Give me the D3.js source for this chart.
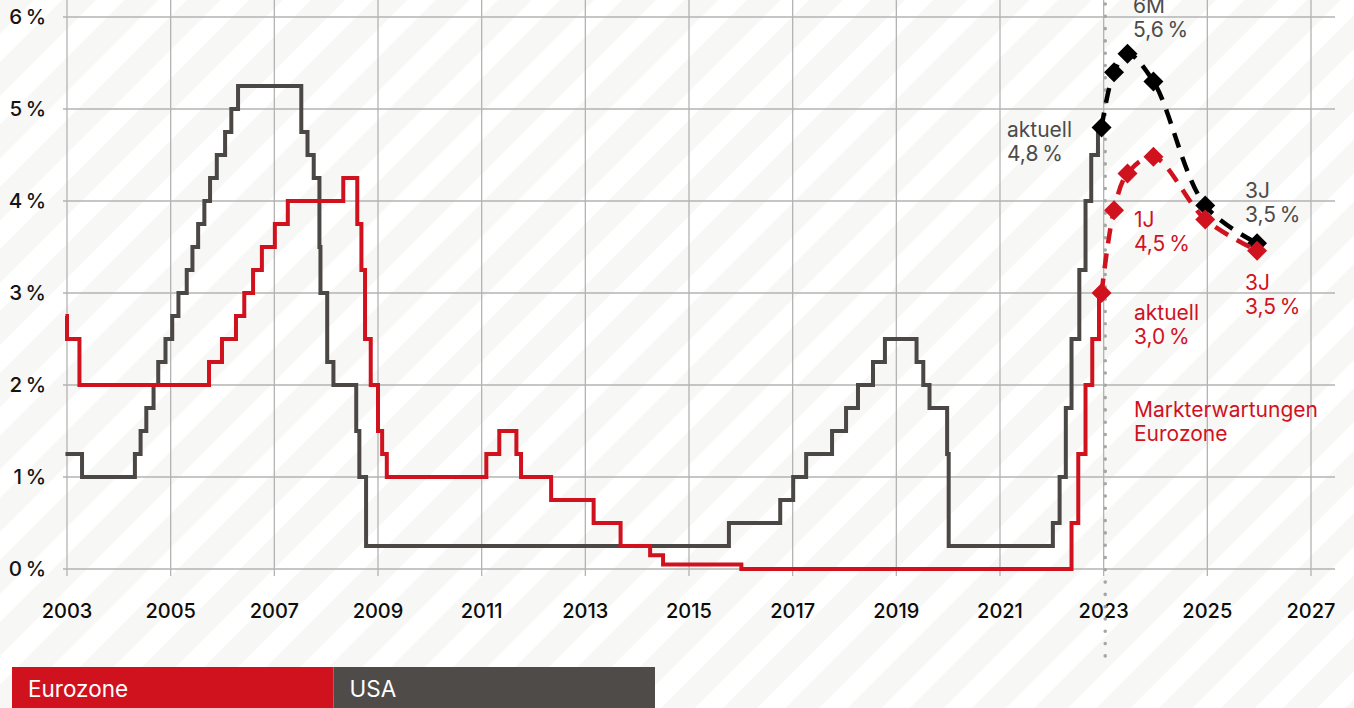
<!DOCTYPE html>
<html>
<head>
<meta charset="utf-8">
<script src="https://cdn.jsdelivr.net/npm/d3@7"></script>
<style>
  html, body { margin: 0; padding: 0; background: #fff; }
  svg { display: block; font-family: Inter, "Liberation Sans", Arial, sans-serif; }
</style>
</head>
<body>
<svg id="chart" width="1354" height="708"></svg>
<script>
// Leitzins Eurozone (Hauptrefinanzierungssatz): Zeitpunkt der Änderung (Dezimaljahr) und neuer Satz in %
const euroYears = [2002.97, 2003.0, 2003.24, 2005.74, 2005.99, 2006.26, 2006.42, 2006.59, 2006.76, 2007.01, 2007.26,
  2008.33, 2008.60, 2008.68, 2008.75, 2008.86, 2009.00, 2009.08, 2009.17, 2011.09, 2011.34, 2011.67, 2011.76,
  2012.34, 2013.16, 2013.68, 2014.25, 2014.50, 2016.01, 2022.38, 2022.51, 2022.65, 2022.78, 2022.91, 2022.96];
const euroRates = [2.75, 2.50, 2.00, 2.25, 2.50, 2.75, 3.00, 3.25, 3.50, 3.75, 4.00,
  4.25, 3.75, 3.25, 2.50, 2.00, 1.50, 1.25, 1.00, 1.25, 1.50, 1.25, 1.00,
  0.75, 0.50, 0.25, 0.15, 0.05, 0.00, 0.50, 1.25, 2.00, 2.50, 3.00, 3.00];

// Leitzins USA (Fed Funds Target, Obergrenze)
const usYears = [2002.97, 2003.29, 2004.31, 2004.42, 2004.53, 2004.67, 2004.76, 2004.90, 2005.03, 2005.15, 2005.31,
  2005.42, 2005.53, 2005.65, 2005.76, 2005.89, 2006.05, 2006.17, 2006.30, 2007.52, 2007.64, 2007.76, 2007.87,
  2007.89, 2008.02, 2008.14, 2008.58, 2008.64, 2008.77, 2015.77, 2016.76, 2017.01, 2017.26, 2017.76, 2018.03,
  2018.26, 2018.55, 2018.78, 2019.39, 2019.52, 2019.64, 2019.98, 2020.01, 2022.02, 2022.15, 2022.27, 2022.38,
  2022.53, 2022.65, 2022.76, 2022.89, 2022.96];
const usRates = [1.25, 1.00, 1.25, 1.50, 1.75, 2.00, 2.25, 2.50, 2.75, 3.00, 3.25,
  3.50, 3.75, 4.00, 4.25, 4.50, 4.75, 5.00, 5.25, 4.75, 4.50, 4.25, 3.50,
  3.00, 2.25, 2.00, 1.50, 1.00, 0.25, 0.50, 0.75, 1.00, 1.25, 1.50, 1.75,
  2.00, 2.25, 2.50, 2.25, 2.00, 1.75, 1.25, 0.25, 0.50, 1.00, 1.75, 2.50,
  3.25, 4.00, 4.50, 4.75, 4.75];

// Markterwartungen: aktuell, 3M, 6M, 1J, 2J, 3J
const forecastYears = [2022.96, 2023.20, 2023.46, 2023.96, 2024.96, 2025.96];
const usForecast = [4.8, 5.4, 5.6, 5.3, 3.95, 3.54];
const euroForecast = [3.0, 3.9, 4.3, 4.48, 3.8, 3.46];

const yTicks = [0, 1, 2, 3, 4, 5, 6];
const xTicks = [2003, 2005, 2007, 2009, 2011, 2013, 2015, 2017, 2019, 2021, 2023, 2025, 2027];
const legendNames = ["Eurozone", "USA"];

const RED = "#d0121f", GREY = "#4b4745", LABEL_GREY = "#4d4b4a";

const svg = d3.select("#chart");
const W = 1354, H = 708;

// diagonally striped background
const defs = svg.append("defs");
const pat = defs.append("pattern")
  .attr("id", "stripes").attr("patternUnits", "userSpaceOnUse")
  .attr("width", 44).attr("height", 44)
  .attr("patternTransform", "rotate(45)");
pat.append("rect").attr("width", 44).attr("height", 44).attr("fill", "#ffffff");
pat.append("rect").attr("width", 24).attr("height", 44).attr("fill", "#f7f7f5");
svg.append("rect").attr("width", W).attr("height", H).attr("fill", "url(#stripes)");

const x = d3.scaleLinear().domain([2003, 2027]).range([67, 1311]);
const y = d3.scaleLinear().domain([0, 6]).range([569, 17]);
const fmt = v => d3.format(".1f")(v).replace(".", ",") + "\u2009%";

// grid
const grid = svg.append("g").attr("stroke", "#b3b3b3").attr("stroke-width", 1.3);
grid.selectAll("line.h").data(yTicks).join("line")
  .attr("x1", 63).attr("x2", 1335)
  .attr("y1", d => y(d)).attr("y2", d => y(d));
grid.selectAll("line.v").data(xTicks).join("line")
  .attr("x1", d => x(d)).attr("x2", d => x(d))
  .attr("y1", 0).attr("y2", 576);

// axis labels
svg.append("g").selectAll("text").data(yTicks).join("text")
  .attr("x", 46).attr("y", d => y(d)).attr("dy", "0.36em")
  .attr("text-anchor", "end").attr("font-size", 20.5).attr("font-weight", 500).attr("fill", "#141414")
  .text(d => d + "\u2009%");
svg.append("g").selectAll("text").data(xTicks).join("text")
  .attr("x", d => x(d)).attr("y", 618)
  .attr("text-anchor", "middle").attr("font-size", 20).attr("font-weight", 500).attr("fill", "#0d0d0d")
  .text(d => d);

// today marker
svg.append("line")
  .attr("x1", x(2023.03)).attr("x2", x(2023.03)).attr("y1", 4).attr("y2", 668)
  .attr("stroke", "#a6a6a6").attr("stroke-width", 3.6)
  .attr("stroke-linecap", "round").attr("stroke-dasharray", "0 12.3");

// historical step lines
const step = d3.line().x(d => x(d[0])).y(d => y(d[1])).curve(d3.curveStepAfter);
const euroData = d3.zip(euroYears, euroRates);
const usData = d3.zip(usYears, usRates);
svg.append("path").datum(usData).attr("d", step)
  .attr("fill", "none").attr("stroke", GREY).attr("stroke-width", 4).attr("stroke-linejoin", "miter");
svg.append("path").datum(euroData).attr("d", step)
  .attr("fill", "none").attr("stroke", RED).attr("stroke-width", 4).attr("stroke-linejoin", "miter");

// forecast curves
const smooth = d3.line().x(d => x(d[0])).y(d => y(d[1])).curve(d3.curveCatmullRom.alpha(0.5));
function forecast(values, color) {
  const data = d3.zip(forecastYears, values);
  svg.append("path").datum(data).attr("d", smooth)
    .attr("fill", "none").attr("stroke", color).attr("stroke-width", 4.5)
    .attr("stroke-dasharray", "15 10");
  svg.append("g").selectAll("path").data(data).join("path")
    .attr("d", d3.symbol(d3.symbolSquare, 200))
    .attr("transform", d => `translate(${x(d[0])},${y(d[1])}) rotate(45)`)
    .attr("fill", color);
}
forecast(usForecast, "#000");
forecast(euroForecast, RED);

// annotations
function note(px, py, lines, color) {
  const t = svg.append("text").attr("font-size", 21).attr("fill", color);
  lines.forEach((s, i) => t.append("tspan").attr("x", px).attr("y", py + i * 23.5).text(s));
}
note(1007, 137, ["aktuell", fmt(usForecast[0])], LABEL_GREY);
note(1133, 13, ["6M", fmt(usForecast[2])], LABEL_GREY);
note(1245, 198, ["3J", fmt(usForecast[5])], LABEL_GREY);
note(1134, 227, ["1J", fmt(euroForecast[3])], RED);
note(1245, 290, ["3J", fmt(euroForecast[5])], RED);
note(1134, 320, ["aktuell", fmt(euroForecast[0])], RED);
note(1134, 417, ["Markterwartungen", "Eurozone"], RED);

// legend
const legend = svg.append("g");
const lx = d3.scaleBand().domain(legendNames).range([12, 655]);
legend.selectAll("rect").data(legendNames).join("rect")
  .attr("x", d => lx(d)).attr("y", 667).attr("width", lx.bandwidth()).attr("height", 41)
  .attr("fill", (d, i) => i === 0 ? RED : "#4f4b48");
legend.selectAll("text").data(legendNames).join("text")
  .attr("x", d => lx(d) + 16).attr("y", 697)
  .attr("font-size", 22.5).attr("fill", "#fff").text(d => d);
</script>
</body>
</html>
